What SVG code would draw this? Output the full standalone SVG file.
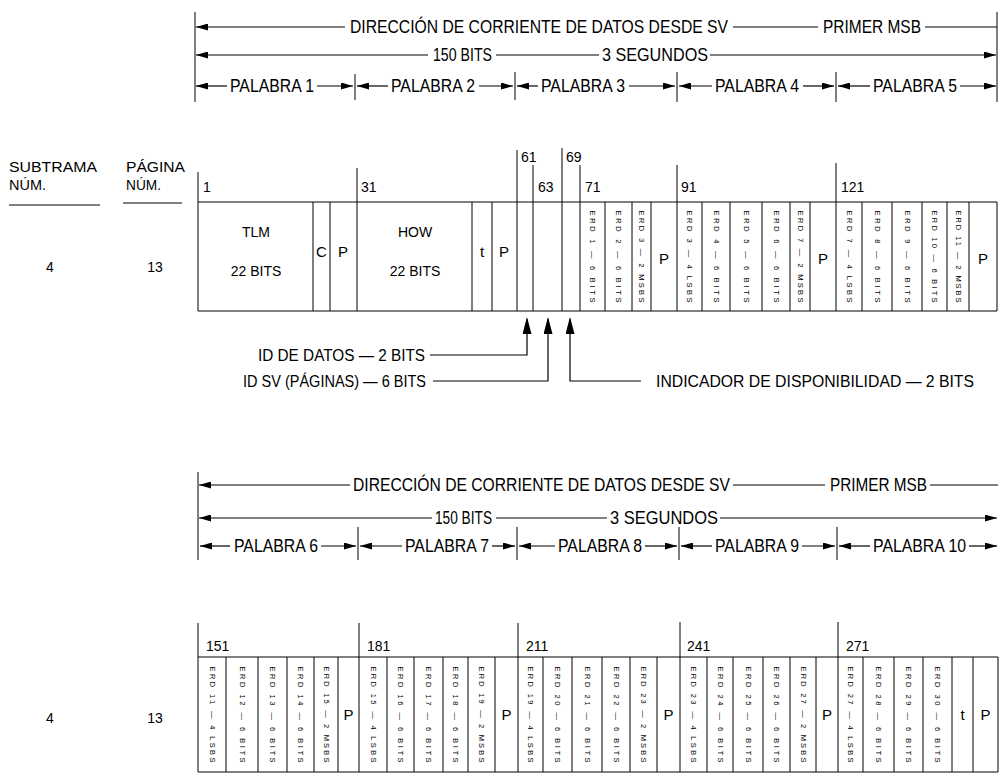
<svg xmlns="http://www.w3.org/2000/svg" width="1000" height="776" viewBox="0 0 1000 776">
<style>
text{font-family:"Liberation Sans",Arial,Helvetica,sans-serif;fill:#000}
.h{font-size:18px}
.k{font-size:16px}
.n{font-size:14px}
.c{font-size:15px}
.m{text-anchor:middle}
.r{font-size:7.5px;text-anchor:middle}
.l{stroke:#000;stroke-width:1.2;fill:none}
.g{stroke:#000;stroke-width:1;fill:none}
</style>
<defs>
<marker id="ah" viewBox="0 0 12 7" refX="12" refY="3.5" markerWidth="12" markerHeight="7" markerUnits="userSpaceOnUse" orient="auto"><path d="M0,0 L12,3.5 L0,7 z" fill="#000"/></marker>
<marker id="up" viewBox="0 0 17 9" refX="15" refY="4.5" markerWidth="17" markerHeight="9" markerUnits="userSpaceOnUse" orient="auto"><path d="M0,0 L17,4.5 L0,9 z" fill="#000"/></marker>
</defs>
<rect width="1000" height="776" fill="#fff"/>

<g id="cabecera-1">
<line class="g" x1="195" y1="12" x2="195" y2="102"/>
<line class="g" x1="997" y1="12" x2="997" y2="102"/>
<line class="l" x1="345" y1="27" x2="196" y2="27" marker-end="url(#ah)"/>
<text class="h" x="350" y="33" textLength="378" lengthAdjust="spacingAndGlyphs">DIRECCIÓN DE CORRIENTE DE DATOS DESDE SV</text>
<line class="l" x1="733" y1="27" x2="818" y2="27"/>
<text class="h" x="823" y="33" textLength="98" lengthAdjust="spacingAndGlyphs">PRIMER MSB</text>
<line class="l" x1="925" y1="27" x2="997" y2="27"/>
<line class="l" x1="428" y1="55" x2="196" y2="55" marker-end="url(#ah)"/>
<text class="h" x="433" y="61" textLength="59" lengthAdjust="spacingAndGlyphs">150 BITS</text>
<line class="l" x1="496" y1="55" x2="599" y2="55"/>
<text class="h" x="602" y="61" textLength="106" lengthAdjust="spacingAndGlyphs">3 SEGUNDOS</text>
<line class="l" x1="710" y1="55" x2="996" y2="55" marker-end="url(#ah)"/>
<line class="g" x1="355" y1="74" x2="355" y2="100"/>
<line class="g" x1="515" y1="72" x2="515" y2="100"/>
<line class="g" x1="677" y1="72" x2="677" y2="102"/>
<line class="g" x1="836" y1="72" x2="836" y2="102"/>
<line class="l" x1="227" y1="86" x2="196" y2="86" marker-end="url(#ah)"/>
<text class="h" x="230" y="92" textLength="84" lengthAdjust="spacingAndGlyphs">PALABRA 1</text>
<line class="l" x1="317" y1="86" x2="353" y2="86" marker-end="url(#ah)"/>
<line class="l" x1="388" y1="86" x2="357" y2="86" marker-end="url(#ah)"/>
<text class="h" x="391" y="92" textLength="84" lengthAdjust="spacingAndGlyphs">PALABRA 2</text>
<line class="l" x1="479" y1="86" x2="513" y2="86" marker-end="url(#ah)"/>
<line class="l" x1="538" y1="86" x2="517" y2="86" marker-end="url(#ah)"/>
<text class="h" x="541" y="92" textLength="84" lengthAdjust="spacingAndGlyphs">PALABRA 3</text>
<line class="l" x1="629" y1="86" x2="675" y2="86" marker-end="url(#ah)"/>
<line class="l" x1="712" y1="86" x2="679" y2="86" marker-end="url(#ah)"/>
<text class="h" x="715" y="92" textLength="84" lengthAdjust="spacingAndGlyphs">PALABRA 4</text>
<line class="l" x1="803" y1="86" x2="834" y2="86" marker-end="url(#ah)"/>
<line class="l" x1="870" y1="86" x2="838" y2="86" marker-end="url(#ah)"/>
<text class="h" x="873" y="92" textLength="84" lengthAdjust="spacingAndGlyphs">PALABRA 5</text>
<line class="l" x1="960" y1="86" x2="996" y2="86" marker-end="url(#ah)"/>
</g>

<g id="encabezados">
<text class="n" x="9" y="172" textLength="88" lengthAdjust="spacingAndGlyphs">SUBTRAMA</text>
<text class="n" x="9" y="190" textLength="37" lengthAdjust="spacingAndGlyphs">NÚM.</text>
<line class="g" x1="9" y1="205" x2="100" y2="205"/>
<text class="n" x="126" y="172" textLength="59" lengthAdjust="spacingAndGlyphs">PÁGINA</text>
<text class="n" x="126" y="190" textLength="35" lengthAdjust="spacingAndGlyphs">NÚM.</text>
<line class="g" x1="123" y1="203" x2="182" y2="203"/>
<text class="n m" x="50" y="272">4</text>
<text class="n m" x="155" y="272">13</text>
<text class="n m" x="50" y="723">4</text>
<text class="n m" x="155" y="723">13</text>
</g>

<g id="tabla-1">
<line class="g" x1="198" y1="202" x2="997" y2="202"/>
<line class="g" x1="198" y1="311" x2="997" y2="311"/>
<line class="g" x1="198" y1="172" x2="198" y2="311"/>
<line class="g" x1="313" y1="202" x2="313" y2="311"/>
<line class="g" x1="330" y1="202" x2="330" y2="311"/>
<line class="g" x1="357" y1="168" x2="357" y2="311"/>
<line class="g" x1="472" y1="202" x2="472" y2="311"/>
<line class="g" x1="492" y1="202" x2="492" y2="311"/>
<line class="g" x1="517" y1="150" x2="517" y2="311"/>
<line class="g" x1="533" y1="165" x2="533" y2="311"/>
<line class="g" x1="562" y1="148" x2="562" y2="311"/>
<line class="g" x1="580" y1="165" x2="580" y2="311"/>
<line class="g" x1="605" y1="202" x2="605" y2="311"/>
<line class="g" x1="632" y1="202" x2="632" y2="311"/>
<line class="g" x1="651" y1="202" x2="651" y2="311"/>
<line class="g" x1="677" y1="165" x2="677" y2="311"/>
<line class="g" x1="702" y1="202" x2="702" y2="311"/>
<line class="g" x1="730" y1="202" x2="730" y2="311"/>
<line class="g" x1="762" y1="202" x2="762" y2="311"/>
<line class="g" x1="790" y1="202" x2="790" y2="311"/>
<line class="g" x1="810" y1="202" x2="810" y2="311"/>
<line class="g" x1="836" y1="163" x2="836" y2="311"/>
<line class="g" x1="862" y1="202" x2="862" y2="311"/>
<line class="g" x1="892" y1="202" x2="892" y2="311"/>
<line class="g" x1="922" y1="202" x2="922" y2="311"/>
<line class="g" x1="947" y1="202" x2="947" y2="311"/>
<line class="g" x1="969" y1="202" x2="969" y2="311"/>
<line class="g" x1="997" y1="202" x2="997" y2="311"/>
<text class="n" x="203" y="192">1</text>
<text class="n" x="361" y="192">31</text>
<text class="n" x="521" y="162">61</text>
<text class="n" x="566" y="162">69</text>
<text class="n" x="538" y="192">63</text>
<text class="n" x="585" y="192">71</text>
<text class="n" x="681" y="192">91</text>
<text class="n" x="841" y="192">121</text>
<text class="n m" x="256" y="237">TLM</text>
<text class="n m" x="256" y="276">22 BITS</text>
<text class="c m" x="321.5" y="257">C</text>
<text class="c m" x="343" y="257">P</text>
<text class="n m" x="415" y="237">HOW</text>
<text class="n m" x="415" y="276">22 BITS</text>
<text class="c m" x="482" y="257">t</text>
<text class="c m" x="504" y="257">P</text>
<text class="c m" x="664" y="264">P</text>
<text class="c m" x="823" y="264">P</text>
<text class="c m" x="983" y="264">P</text>
<text class="r" transform="translate(592.5,256.5) rotate(90)" dy="2.5" textLength="92" lengthAdjust="spacing">ERD 1 — 6 BITS</text>
<text class="r" transform="translate(618.5,256.5) rotate(90)" dy="2.5" textLength="92" lengthAdjust="spacing">ERD 2 — 6 BITS</text>
<text class="r" transform="translate(641.5,256.5) rotate(90)" dy="2.5" textLength="92" lengthAdjust="spacing">ERD 3 — 2 MSBS</text>
<text class="r" transform="translate(689.5,256.5) rotate(90)" dy="2.5" textLength="92" lengthAdjust="spacing">ERD 3 — 4 LSBS</text>
<text class="r" transform="translate(716,256.5) rotate(90)" dy="2.5" textLength="92" lengthAdjust="spacing">ERD 4 — 6 BITS</text>
<text class="r" transform="translate(746,256.5) rotate(90)" dy="2.5" textLength="92" lengthAdjust="spacing">ERD 5 — 6 BITS</text>
<text class="r" transform="translate(776,256.5) rotate(90)" dy="2.5" textLength="92" lengthAdjust="spacing">ERD 6 — 6 BITS</text>
<text class="r" transform="translate(800,256.5) rotate(90)" dy="2.5" textLength="92" lengthAdjust="spacing">ERD 7 — 2 MSBS</text>
<text class="r" transform="translate(849,256.5) rotate(90)" dy="2.5" textLength="92" lengthAdjust="spacing">ERD 7 — 4 LSBS</text>
<text class="r" transform="translate(877,256.5) rotate(90)" dy="2.5" textLength="92" lengthAdjust="spacing">ERD 8 — 6 BITS</text>
<text class="r" transform="translate(907,256.5) rotate(90)" dy="2.5" textLength="92" lengthAdjust="spacing">ERD 9 — 6 BITS</text>
<text class="r" transform="translate(934.5,256.5) rotate(90)" dy="2.5" textLength="92" lengthAdjust="spacing">ERD 10 — 6 BITS</text>
<text class="r" transform="translate(958,256.5) rotate(90)" dy="2.5" textLength="92" lengthAdjust="spacing">ERD 11 — 2 MSBS</text>
</g>

<g id="conectores">
<path class="l" d="M430,355 H527 V319" marker-end="url(#up)"/>
<path class="l" d="M433,381 H548 V319" marker-end="url(#up)"/>
<path class="l" d="M641,381 H570 V319" marker-end="url(#up)"/>
</g>

<g id="etiquetas-id">
<text class="k" x="425" y="361" text-anchor="end" textLength="167" lengthAdjust="spacingAndGlyphs">ID DE DATOS — 2 BITS</text>
<text class="k" x="426" y="387" text-anchor="end" textLength="183" lengthAdjust="spacingAndGlyphs">ID SV (PÁGINAS) — 6 BITS</text>
<text class="k" x="656" y="387" textLength="318" lengthAdjust="spacingAndGlyphs">INDICADOR DE DISPONIBILIDAD — 2 BITS</text>
</g>

<g id="cabecera-2">
<line class="g" x1="198" y1="472" x2="198" y2="560"/>
<line class="l" x1="350" y1="485" x2="199" y2="485" marker-end="url(#ah)"/>
<text class="h" x="353" y="491" textLength="377" lengthAdjust="spacingAndGlyphs">DIRECCIÓN DE CORRIENTE DE DATOS DESDE SV</text>
<line class="l" x1="733" y1="485" x2="825" y2="485"/>
<text class="h" x="830" y="491" textLength="97" lengthAdjust="spacingAndGlyphs">PRIMER MSB</text>
<line class="l" x1="930" y1="485" x2="998" y2="485"/>
<line class="l" x1="432" y1="518" x2="199" y2="518" marker-end="url(#ah)"/>
<text class="h" x="435" y="524" textLength="57" lengthAdjust="spacingAndGlyphs">150 BITS</text>
<line class="l" x1="496" y1="518" x2="607" y2="518"/>
<text class="h" x="610" y="524" textLength="108" lengthAdjust="spacingAndGlyphs">3 SEGUNDOS</text>
<line class="l" x1="720" y1="518" x2="997" y2="518" marker-end="url(#ah)"/>
<line class="g" x1="358" y1="527" x2="358" y2="560"/>
<line class="g" x1="517" y1="527" x2="517" y2="560"/>
<line class="g" x1="679" y1="527" x2="679" y2="560"/>
<line class="g" x1="837" y1="527" x2="837" y2="560"/>
<line class="l" x1="230" y1="546" x2="200" y2="546" marker-end="url(#ah)"/>
<text class="h" x="234" y="552" textLength="84" lengthAdjust="spacingAndGlyphs">PALABRA 6</text>
<line class="l" x1="321" y1="546" x2="356" y2="546" marker-end="url(#ah)"/>
<line class="l" x1="402" y1="546" x2="360" y2="546" marker-end="url(#ah)"/>
<text class="h" x="405" y="552" textLength="84" lengthAdjust="spacingAndGlyphs">PALABRA 7</text>
<line class="l" x1="492" y1="546" x2="515" y2="546" marker-end="url(#ah)"/>
<line class="l" x1="555" y1="546" x2="519" y2="546" marker-end="url(#ah)"/>
<text class="h" x="558" y="552" textLength="84" lengthAdjust="spacingAndGlyphs">PALABRA 8</text>
<line class="l" x1="645" y1="546" x2="677" y2="546" marker-end="url(#ah)"/>
<line class="l" x1="712" y1="546" x2="681" y2="546" marker-end="url(#ah)"/>
<text class="h" x="715" y="552" textLength="84" lengthAdjust="spacingAndGlyphs">PALABRA 9</text>
<line class="l" x1="802" y1="546" x2="835" y2="546" marker-end="url(#ah)"/>
<line class="l" x1="870" y1="546" x2="839" y2="546" marker-end="url(#ah)"/>
<text class="h" x="873" y="552" textLength="93" lengthAdjust="spacingAndGlyphs">PALABRA 10</text>
<line class="l" x1="969" y1="546" x2="997" y2="546" marker-end="url(#ah)"/>
</g>

<g id="tabla-2">
<line class="g" x1="198" y1="657" x2="998" y2="657"/>
<line class="g" x1="198" y1="772" x2="998" y2="772"/>
<line class="g" x1="198" y1="623" x2="198" y2="772"/>
<line class="g" x1="226" y1="657" x2="226" y2="772"/>
<line class="g" x1="258" y1="657" x2="258" y2="772"/>
<line class="g" x1="287" y1="657" x2="287" y2="772"/>
<line class="g" x1="314" y1="657" x2="314" y2="772"/>
<line class="g" x1="338" y1="657" x2="338" y2="772"/>
<line class="g" x1="359" y1="623" x2="359" y2="772"/>
<line class="g" x1="387" y1="657" x2="387" y2="772"/>
<line class="g" x1="414" y1="657" x2="414" y2="772"/>
<line class="g" x1="443" y1="657" x2="443" y2="772"/>
<line class="g" x1="468" y1="657" x2="468" y2="772"/>
<line class="g" x1="495" y1="657" x2="495" y2="772"/>
<line class="g" x1="518" y1="623" x2="518" y2="772"/>
<line class="g" x1="543" y1="657" x2="543" y2="772"/>
<line class="g" x1="572" y1="657" x2="572" y2="772"/>
<line class="g" x1="602" y1="657" x2="602" y2="772"/>
<line class="g" x1="630" y1="657" x2="630" y2="772"/>
<line class="g" x1="657" y1="657" x2="657" y2="772"/>
<line class="g" x1="680" y1="622" x2="680" y2="772"/>
<line class="g" x1="707" y1="657" x2="707" y2="772"/>
<line class="g" x1="733" y1="657" x2="733" y2="772"/>
<line class="g" x1="763" y1="657" x2="763" y2="772"/>
<line class="g" x1="790" y1="657" x2="790" y2="772"/>
<line class="g" x1="816" y1="657" x2="816" y2="772"/>
<line class="g" x1="838" y1="622" x2="838" y2="772"/>
<line class="g" x1="863" y1="657" x2="863" y2="772"/>
<line class="g" x1="894" y1="657" x2="894" y2="772"/>
<line class="g" x1="923" y1="657" x2="923" y2="772"/>
<line class="g" x1="952" y1="657" x2="952" y2="772"/>
<line class="g" x1="973" y1="657" x2="973" y2="772"/>
<line class="g" x1="998" y1="657" x2="998" y2="772"/>
<text class="n" x="206" y="651">151</text>
<text class="n" x="367" y="651">181</text>
<text class="n" x="526" y="651">211</text>
<text class="n" x="687" y="651">241</text>
<text class="n" x="846" y="651">271</text>
<text class="c m" x="348.5" y="720">P</text>
<text class="c m" x="506.5" y="720">P</text>
<text class="c m" x="668.5" y="720">P</text>
<text class="c m" x="827" y="720">P</text>
<text class="c m" x="962.5" y="720">t</text>
<text class="c m" x="985.5" y="720">P</text>
<text class="r" transform="translate(212,714.5) rotate(90)" dy="2.5" textLength="96" lengthAdjust="spacing">ERD 11 — 4 LSBS</text>
<text class="r" transform="translate(242,714.5) rotate(90)" dy="2.5" textLength="96" lengthAdjust="spacing">ERD 12 — 6 BITS</text>
<text class="r" transform="translate(272.5,714.5) rotate(90)" dy="2.5" textLength="96" lengthAdjust="spacing">ERD 13 — 6 BITS</text>
<text class="r" transform="translate(300.5,714.5) rotate(90)" dy="2.5" textLength="96" lengthAdjust="spacing">ERD 14 — 6 BITS</text>
<text class="r" transform="translate(326,714.5) rotate(90)" dy="2.5" textLength="96" lengthAdjust="spacing">ERD 15 — 2 MSBS</text>
<text class="r" transform="translate(373,714.5) rotate(90)" dy="2.5" textLength="96" lengthAdjust="spacing">ERD 15 — 4 LSBS</text>
<text class="r" transform="translate(400.5,714.5) rotate(90)" dy="2.5" textLength="96" lengthAdjust="spacing">ERD 16 — 6 BITS</text>
<text class="r" transform="translate(428.5,714.5) rotate(90)" dy="2.5" textLength="96" lengthAdjust="spacing">ERD 17 — 6 BITS</text>
<text class="r" transform="translate(455.5,714.5) rotate(90)" dy="2.5" textLength="96" lengthAdjust="spacing">ERD 18 — 6 BITS</text>
<text class="r" transform="translate(481.5,714.5) rotate(90)" dy="2.5" textLength="96" lengthAdjust="spacing">ERD 19 — 2 MSBS</text>
<text class="r" transform="translate(530.5,714.5) rotate(90)" dy="2.5" textLength="96" lengthAdjust="spacing">ERD 19 — 4 LSBS</text>
<text class="r" transform="translate(557.5,714.5) rotate(90)" dy="2.5" textLength="96" lengthAdjust="spacing">ERD 20 — 6 BITS</text>
<text class="r" transform="translate(587,714.5) rotate(90)" dy="2.5" textLength="96" lengthAdjust="spacing">ERD 21 — 6 BITS</text>
<text class="r" transform="translate(616,714.5) rotate(90)" dy="2.5" textLength="96" lengthAdjust="spacing">ERD 22 — 6 BITS</text>
<text class="r" transform="translate(643.5,714.5) rotate(90)" dy="2.5" textLength="96" lengthAdjust="spacing">ERD 23 — 2 MSBS</text>
<text class="r" transform="translate(693.5,714.5) rotate(90)" dy="2.5" textLength="96" lengthAdjust="spacing">ERD 23 — 4 LSBS</text>
<text class="r" transform="translate(720,714.5) rotate(90)" dy="2.5" textLength="96" lengthAdjust="spacing">ERD 24 — 6 BITS</text>
<text class="r" transform="translate(748,714.5) rotate(90)" dy="2.5" textLength="96" lengthAdjust="spacing">ERD 25 — 6 BITS</text>
<text class="r" transform="translate(776.5,714.5) rotate(90)" dy="2.5" textLength="96" lengthAdjust="spacing">ERD 26 — 6 BITS</text>
<text class="r" transform="translate(803,714.5) rotate(90)" dy="2.5" textLength="96" lengthAdjust="spacing">ERD 27 — 2 MSBS</text>
<text class="r" transform="translate(850.5,714.5) rotate(90)" dy="2.5" textLength="96" lengthAdjust="spacing">ERD 27 — 4 LSBS</text>
<text class="r" transform="translate(878.5,714.5) rotate(90)" dy="2.5" textLength="96" lengthAdjust="spacing">ERD 28 — 6 BITS</text>
<text class="r" transform="translate(908.5,714.5) rotate(90)" dy="2.5" textLength="96" lengthAdjust="spacing">ERD 29 — 6 BITS</text>
<text class="r" transform="translate(937.5,714.5) rotate(90)" dy="2.5" textLength="96" lengthAdjust="spacing">ERD 30 — 6 BITS</text>
</g>
</svg>
